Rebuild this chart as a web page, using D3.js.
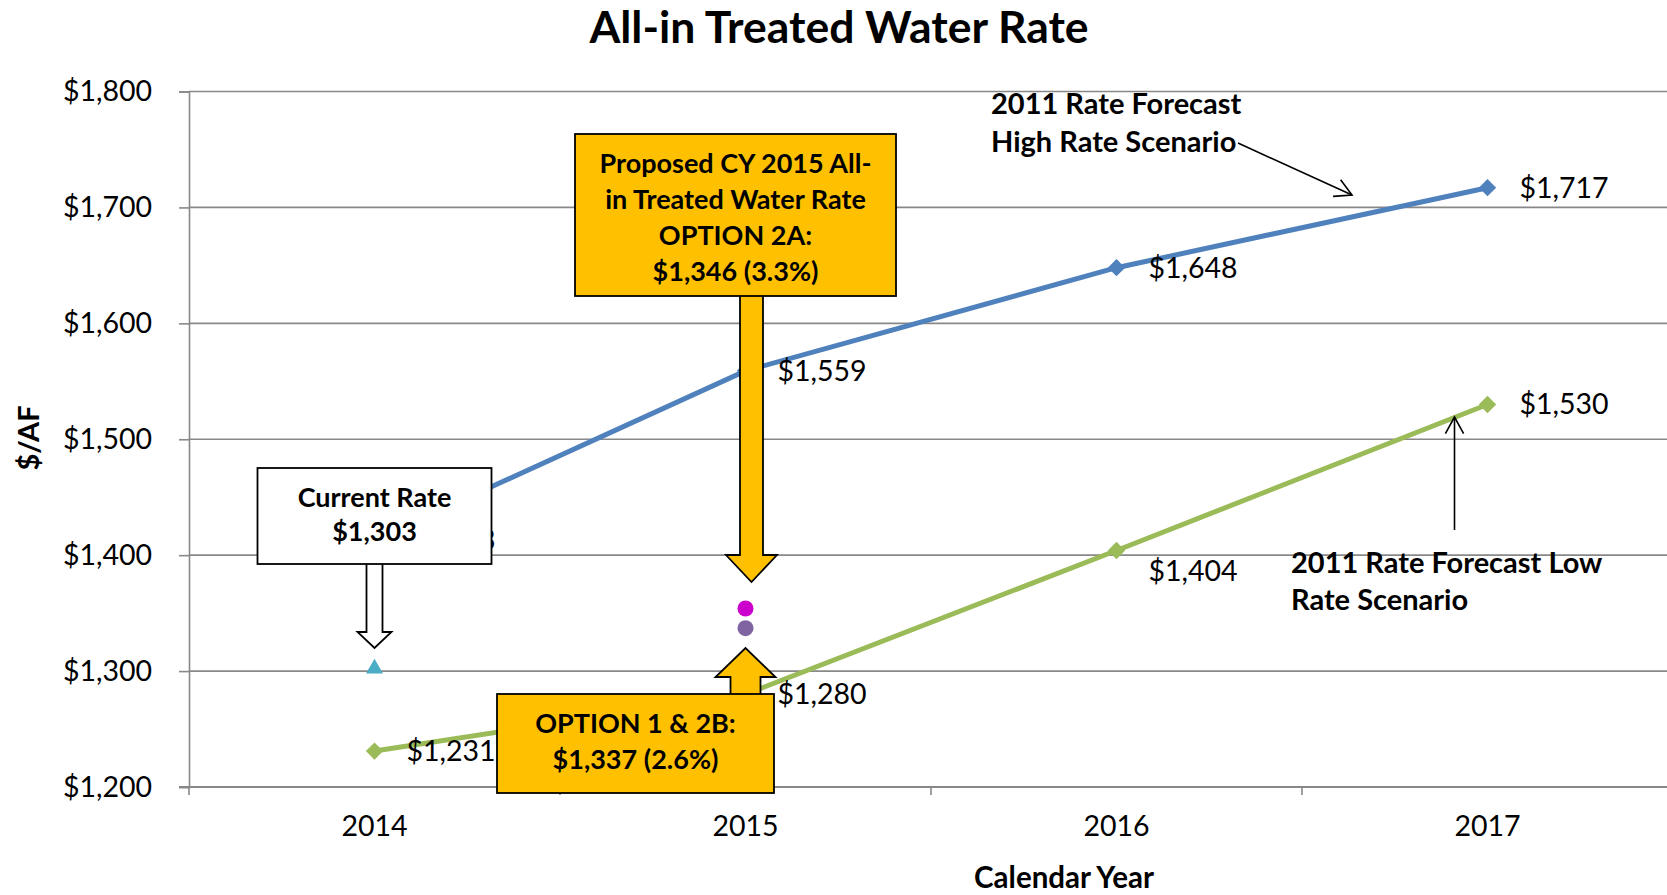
<!DOCTYPE html>
<html>
<head>
<meta charset="utf-8">
<script src="https://cdn.jsdelivr.net/npm/d3@7"></script>
<style>
  body { margin: 0; background: #fff; }
  svg { display: block; font-family: Lato, "Open Sans", sans-serif; }
</style>
</head>
<body>
<div id="chart"></div>
<script>
// chart values
const years = ["2014", "2015", "2016", "2017"];
const highRate = [1413, 1559, 1648, 1717];   // 2011 forecast, high scenario
const lowRate = [1231, 1280, 1404, 1530];    // 2011 forecast, low scenario
const currentRate = [{ year: "2014", value: 1303 }];
const option2A = [{ year: "2015", value: 1354 }];
const option1 = [{ year: "2015", value: 1337 }];
const yTicks = [1200, 1300, 1400, 1500, 1600, 1700, 1800];

const width = 1667, height = 895;
const margin = { top: 91.5, left: 189, bottom: 108 };

const svg = d3.select('#chart').append('svg')
  .attr('width', width)
  .attr('height', height);

const x = d3.scaleBand()
  .domain(years)
  .range([margin.left, margin.left + 371 * years.length]);

const y = d3.scaleLinear()
  .domain([1200, 1800])
  .range([height - margin.bottom, margin.top]);

const cx = d => x(d) + x.bandwidth() / 2;
const money = d => '$' + d3.format(',')(d);
const gridColor = '#888';

// title
svg.append('text')
  .attr('x', 839).attr('y', 43)
  .attr('text-anchor', 'middle')
  .attr('font-size', 44.5).attr('font-weight', 'bold')
  .text('All-in Treated Water Rate');

// horizontal gridlines
svg.append('g').selectAll('line')
  .data(yTicks.slice(1))
  .enter().append('line')
    .attr('x1', margin.left).attr('x2', width)
    .attr('y1', y).attr('y2', y)
    .attr('stroke', gridColor).attr('stroke-width', 1.6);

// y axis
const yAxis = svg.append('g')
  .attr('transform', `translate(${margin.left},0)`)
  .call(d3.axisLeft(y).tickValues(yTicks).tickSize(10).tickPadding(27).tickFormat(money));
yAxis.select('.domain').attr('stroke', gridColor).attr('stroke-width', 1.6);
yAxis.selectAll('.tick line').attr('stroke', gridColor).attr('stroke-width', 1.6);
yAxis.selectAll('text').attr('font-size', 28.5).attr('fill', '#000')
  .attr('font-family', 'Lato');

// x axis: labels at band centres, ticks at band edges
const xAxis = svg.append('g')
  .attr('transform', `translate(0,${y(1200)})`)
  .call(d3.axisBottom(x).tickSize(0).tickPadding(29));
xAxis.select('.domain').remove();
xAxis.selectAll('text').attr('font-size', 28.5).attr('fill', '#000')
  .attr('font-family', 'Lato');

svg.append('line')
  .attr('x1', margin.left - 10).attr('x2', width)
  .attr('y1', y(1200)).attr('y2', y(1200))
  .attr('stroke', gridColor).attr('stroke-width', 2);

svg.append('g').selectAll('line')
  .data(years)
  .enter().append('line')
    .attr('x1', d => x(d)).attr('x2', d => x(d))
    .attr('y1', y(1200)).attr('y2', y(1200) + 8)
    .attr('stroke', gridColor).attr('stroke-width', 1.6);

// axis titles
svg.append('text')
  .attr('transform', 'translate(39,438) rotate(-90)')
  .attr('text-anchor', 'middle')
  .attr('font-size', 29).attr('font-weight', 'bold')
  .text('$/AF');

svg.append('text')
  .attr('x', 1064).attr('y', 888)
  .attr('text-anchor', 'middle')
  .attr('font-size', 29.5).attr('font-weight', 'bold')
  .text('Calendar Year');

// forecast lines
const series = [
  { name: 'high', values: highRate, color: '#4F81BD' },
  { name: 'low', values: lowRate, color: '#9BBB59' }
];

const line = d3.line()
  .x((d, i) => cx(years[i]))
  .y(d => y(d));

svg.append('g').selectAll('path')
  .data(series)
  .enter().append('path')
    .attr('fill', 'none')
    .attr('stroke', s => s.color)
    .attr('stroke-width', 5)
    .attr('d', s => line(s.values));

const diamond = d3.symbol().type(d3.symbolSquare).size(150);

series.forEach(s => {
  svg.append('g').selectAll('path')
    .data(s.values)
    .enter().append('path')
      .attr('d', diamond)
      .attr('fill', s.color)
      .attr('transform', (d, i) => `translate(${cx(years[i])},${y(d)}) rotate(45)`);

  svg.append('g').selectAll('text')
    .data(s.values)
    .enter().append('text')
      .attr('x', (d, i) => cx(years[i]) + 32)
      // the 2016 low label sits a little under its point
      .attr('y', (d, i) => y(d) + 10 + (s.name === 'low' && i === 2 ? 20 : 0))
      .attr('font-size', 28.5)
      .text(money);
});

// single-point markers
svg.append('path')
  .datum(currentRate[0])
  .attr('d', d3.symbol().type(d3.symbolTriangle).size(125))
  .attr('fill', '#4BACC6')
  .attr('transform', d => `translate(${cx(d.year)},${y(d.value) + 1})`);

svg.selectAll('.opt')
  .data(option2A.map(d => ({ ...d, color: '#CC00CC' }))
    .concat(option1.map(d => ({ ...d, color: '#8064A2' }))))
  .enter().append('circle')
    .attr('class', 'opt')
    .attr('cx', d => cx(d.year))
    .attr('cy', d => y(d.value))
    .attr('r', 8)
    .attr('fill', d => d.color);

// annotations
const orange = '#FFC000';

function block(lines, x0, y0, x1, y1, fill, firstY, step) {
  svg.append('rect')
    .attr('x', x0).attr('y', y0)
    .attr('width', x1 - x0).attr('height', y1 - y0)
    .attr('fill', fill).attr('stroke', '#000').attr('stroke-width', 1.8);
  const t = svg.append('text')
    .attr('text-anchor', 'middle')
    .attr('font-size', 27).attr('font-weight', 'bold');
  lines.forEach((l, i) => {
    t.append('tspan')
      .attr('x', (x0 + x1) / 2)
      .attr('y', firstY + i * step + 10)
      .text(l);
  });
}

function blockArrow(c, from, to, shaft, head, headLen, fill) {
  const dir = to > from ? 1 : -1;
  const hb = to - dir * headLen;
  const pts = [
    [c - shaft, from], [c - shaft, hb], [c - head, hb], [c, to],
    [c + head, hb], [c + shaft, hb], [c + shaft, from]
  ];
  svg.append('path')
    .attr('d', d3.line()(pts) + 'Z')
    .attr('fill', fill).attr('stroke', '#000').attr('stroke-width', 1.8)
    .attr('stroke-linejoin', 'miter');
}

function pointer(x1, y1, x2, y2) {
  const a = Math.atan2(y2 - y1, x2 - x1);
  const len = 19, spread = 0.5;
  const g = svg.append('g').attr('stroke', '#000').attr('stroke-width', 1.6).attr('fill', 'none');
  g.append('line').attr('x1', x1).attr('y1', y1).attr('x2', x2).attr('y2', y2);
  g.append('path').attr('d', d3.line()([
    [x2 - len * Math.cos(a - spread), y2 - len * Math.sin(a - spread)],
    [x2, y2],
    [x2 - len * Math.cos(a + spread), y2 - len * Math.sin(a + spread)]
  ]));
}

// current rate call-out
const c14 = cx('2014');
blockArrow(c14, 563, 648, 8, 17, 16, '#fff');
block(['Current Rate', money(currentRate[0].value)], c14 - 117, 468, c14 + 117, 564, '#fff', 497, 34);

// option 2A call-out
const c15 = cx('2015');
blockArrow(c15 + 6, 294, 582, 11.5, 25.5, 27, orange);
block(['Proposed CY 2015 All-', 'in Treated Water Rate', 'OPTION 2A:', '$1,346 (3.3%)'],
  575, 134, 896, 296, orange, 163, 36);

// option 1 & 2B call-out
blockArrow(c15, 696, 648, 15, 30, 29, orange);
block(['OPTION 1 & 2B:', '$1,337 (2.6%)'], 497, 694, 774, 793, orange, 723, 36);

// forecast scenario notes
const note = (lines, x0, firstY, step) => {
  const t = svg.append('text').attr('font-size', 29).attr('font-weight', 'bold');
  lines.forEach((l, i) => t.append('tspan').attr('x', x0).attr('y', firstY + i * step + 10.5).text(l));
};
note(['2011 Rate Forecast', 'High Rate Scenario'], 991, 103, 38);
pointer(1238, 143, 1352, 195);

note(['2011 Rate Forecast Low', 'Rate Scenario'], 1291, 562, 37);
pointer(1454.5, 530, 1454.5, 417);
</script>
</body>
</html>
